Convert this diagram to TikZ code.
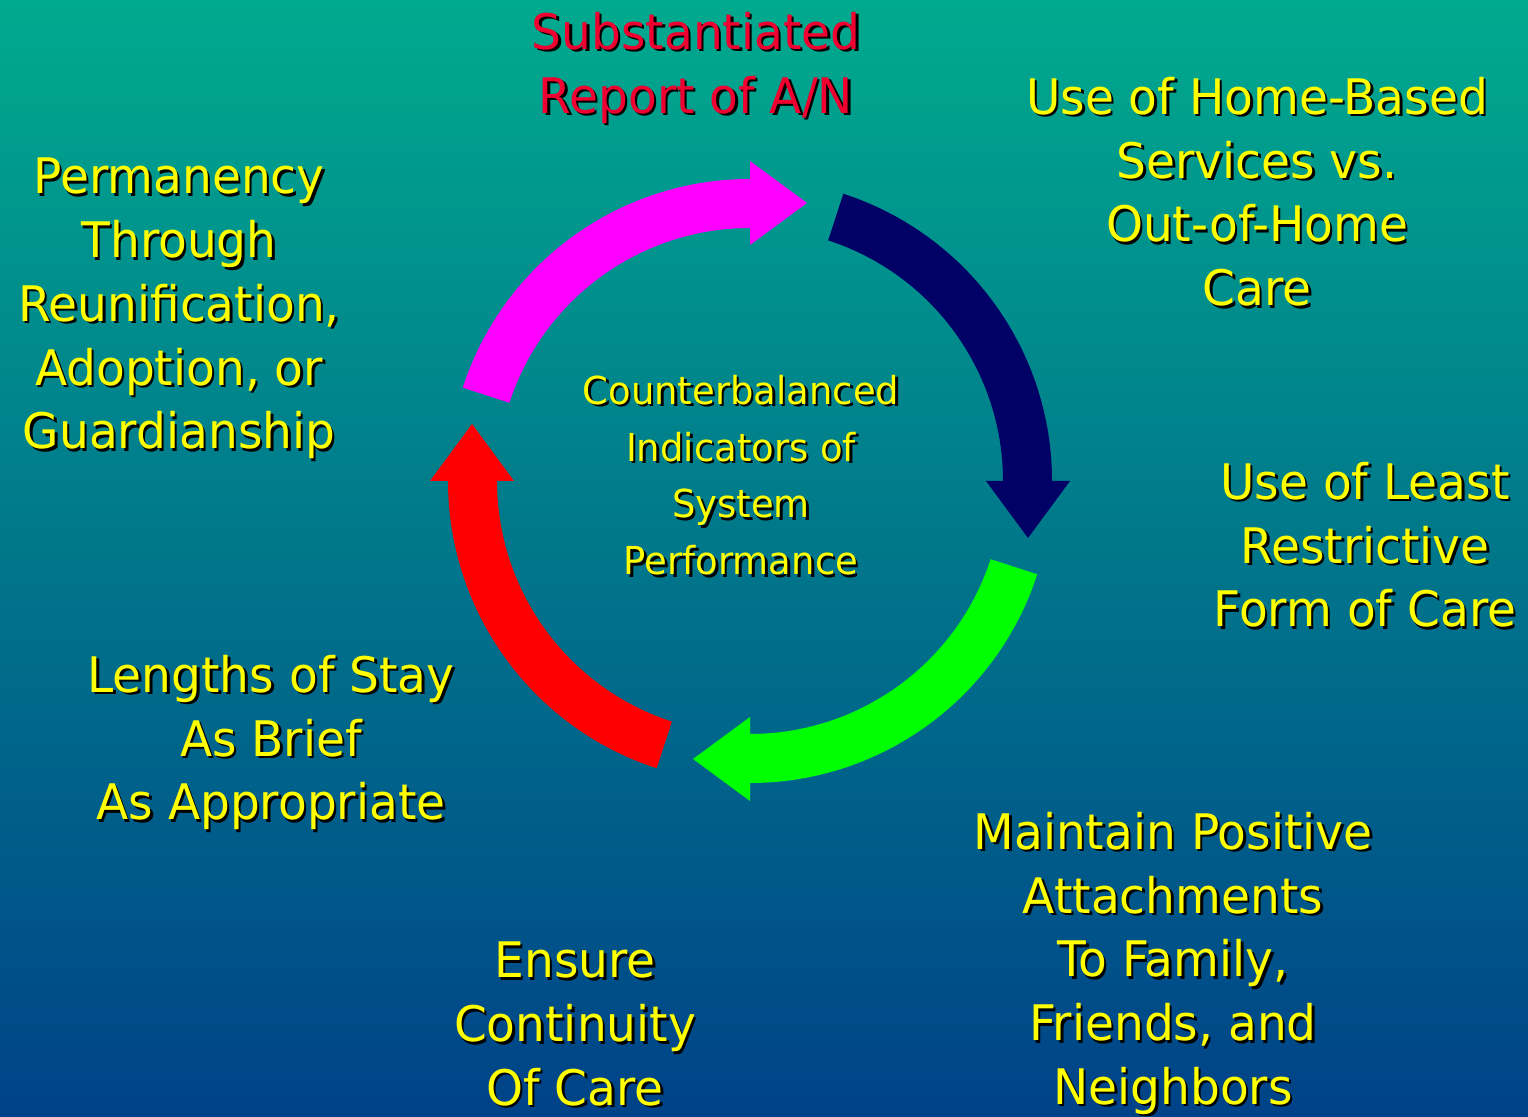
\documentclass[tikz,border=0pt]{standalone}
\usepackage{fontspec}
\setmainfont{DejaVu Sans}[FakeStretch=0.96]
\usetikzlibrary{calc}
\definecolor{bgtop}{RGB}{0,170,142}
\definecolor{bgbot}{RGB}{0,66,136}
\definecolor{amag}{RGB}{255,0,255}
\definecolor{anavy}{RGB}{0,0,102}
\definecolor{agreen}{RGB}{0,255,0}
\definecolor{ared}{RGB}{255,0,0}
\definecolor{txtyel}{RGB}{255,255,0}
\definecolor{txtred}{RGB}{240,0,48}
\tikzset{
  lbl/.style={anchor=north, inner sep=0pt, align=center,
    font=\fontsize{49}{63.75}\selectfont, execute at begin node={\rule{0pt}{45pt}}},
  clbl/.style={anchor=north, inner sep=0pt, align=center,
    font=\fontsize{38.5}{56.7}\selectfont, execute at begin node={\rule{0pt}{35pt}}},
}
\newcommand\mylabel[5]{%
  \node[#1, text=black, xshift=2.5pt, yshift=-2.5pt] (#2s) at (#3) {#5};
  \node[#1, text=#4] (#2) at (#3) {#5};}
\begin{document}
\begin{tikzpicture}[x=1pt,y=1pt]
\shade[top color=bgtop, bottom color=bgbot] (0,0) rectangle (1528,1116);
\useasboundingbox (0,0) rectangle (1528,1116);
\coordinate (C) at (750,635);
\foreach \a/\c in {162/amag, 72/anavy, -18/agreen, -108/ared} {
  \pgfmathsetmacro\b{\a-72}
  \fill[\c] ($(C)+(\a:302)$) arc[start angle=\a, end angle=\b, radius=302]
    -- ($(C)+(\b:320)$) -- ($(C)+(\b:278)+(\b-90:57)$) -- ($(C)+(\b:236)$)
    -- ($(C)+(\b:253)$) arc[start angle=\b, end angle=\a, radius=253] -- cycle;
}
\mylabel{lbl}{subst}{696,1104}{txtred}{Substantiated\\Report of A/N}
\mylabel{lbl}{home}{1257,1039}{txtyel}{Use of Home-Based\\Services vs.\\Out-of-Home\\Care}
\mylabel{lbl}{least}{1365,654}{txtyel}{Use of Least\\Restrictive\\Form of Care}
\mylabel{lbl}{maint}{1173,304}{txtyel}{Maintain Positive\\Attachments\\To Family,\\Friends, and\\Neighbors}
\mylabel{lbl}{ensure}{575,174}{txtyel}{Ensure\\Continuity\\Of Care}
\mylabel{lbl}{length}{271,461}{txtyel}{Lengths of Stay\\As Brief\\As Appropriate}
\mylabel{lbl}{perm}{179,958}{txtyel}{Permanency\\Through\\Reunification,\\Adoption, or\\Guardianship}
\mylabel{clbl}{center}{741,741}{txtyel}{Counterbalanced\\Indicators of\\System\\Performance}
\end{tikzpicture}
\end{document}
